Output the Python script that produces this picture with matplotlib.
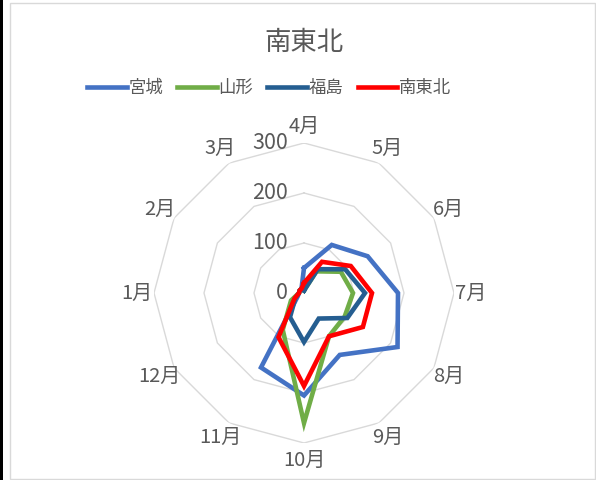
import numpy as np
import matplotlib.pyplot as plt
from matplotlib.patches import Rectangle

plt.rcParams['font.family'] = ['Noto Sans CJK JP', 'DejaVu Sans']

# 月別データ（4月始まり）
months = ['4月', '5月', '6月', '7月', '8月', '9月', '10月', '11月', '12月', '1月', '2月', '3月']
miyagi = [50, 111, 147, 188, 216, 143, 205, 172, 15, 10, 10, 10]
yamagata = [5, 50, 85, 98, 94, 100, 260, 85, 30, 10, 10, 10]
fukushima = [5, 55, 95, 122, 100, 59, 98, 56, 20, 10, 10, 10]
minami = [20, 72, 108, 136, 136, 100, 186, 102, 22, 10, 10, 10]

series = [('宮城', miyagi, '#4472C4'),
          ('山形', yamagata, '#70AD47'),
          ('福島', fukushima, '#255E91'),
          ('南東北', minami, '#FF0000')]

r_ticks = [0, 100, 200, 300]
text_color = '#595959'
grid_color = '#D9D9D9'

W, H = 596, 480
fig = plt.figure(figsize=(W / 100, H / 100), dpi=100)

# 枠線と左端の黒帯
fig.patches.append(Rectangle((10 / W, 1 / H), (W - 11) / W, (H - 4) / H,
                             transform=fig.transFigure, fill=False,
                             edgecolor=grid_color, linewidth=1))
fig.patches.append(Rectangle((0, 0), 3 / W, 1, transform=fig.transFigure,
                             facecolor='black', edgecolor='none'))

cx, cy, R = 304, 293, 150
ax = fig.add_axes([(cx - R) / W, (H - cy - R) / H, 2 * R / W, 2 * R / H],
                  projection='polar')
ax.set_theta_zero_location('N')
ax.set_theta_direction(-1)
ax.set_ylim(0, 300)
ax.grid(False)
ax.spines['polar'].set_visible(False)
ax.set_xticks([])
ax.set_yticks([])
ax.patch.set_alpha(0)

angles = np.linspace(0, 2 * np.pi, len(months), endpoint=False)
closed = np.append(angles, angles[0])

# 多角形の目盛線
for r in r_ticks[1:]:
    ax.plot(closed, [r] * len(closed), color=grid_color, lw=1, zorder=1)

for name, vals, col in series:
    ax.plot(closed, vals + vals[:1], color=col, lw=3.3, label=name,
            solid_joinstyle='miter', zorder=3)

# 月ラベル
for a, m in zip(angles, months):
    ax.text(a, 334, m, ha='center', va='center', fontsize=14.5,
            color=text_color, clip_on=False)

# 目盛ラベル
for r in r_ticks:
    ax.annotate(str(r), xy=(0, r), xytext=(-16, 0), textcoords='offset pixels',
                ha='right', va='center', fontsize=15.5, color=text_color,
                annotation_clip=False, zorder=5)

fig.text(cx / W, 1 - 42 / H, '南東北', ha='center', va='center',
         fontsize=19, color=text_color)

fig.legend(loc='center', bbox_to_anchor=(269 / W, 1 - 88 / H), ncol=4,
           frameon=False, fontsize=12.5, handlelength=2.3, handletextpad=0.1,
           columnspacing=0.8, labelcolor=text_color)

fig.savefig('out.png', dpi=100, facecolor='white')
